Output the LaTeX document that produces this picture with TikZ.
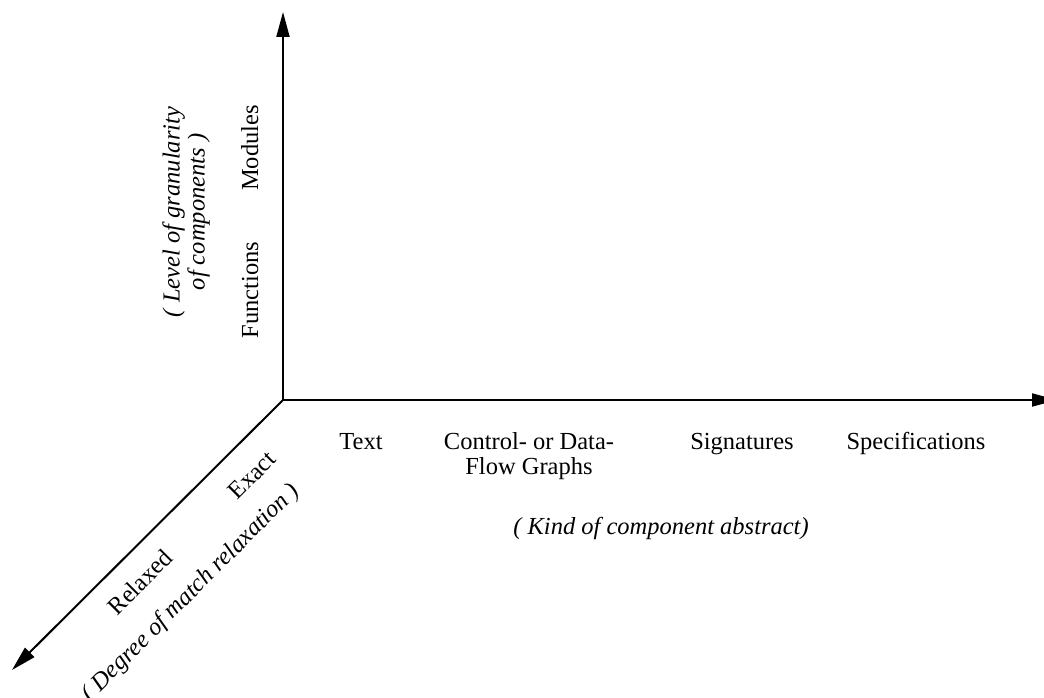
\documentclass[tikz,border=0pt]{standalone}
\usepackage{fontspec}
\setmainfont{Liberation Serif}
\usepackage{tikz}
\usetikzlibrary{positioning, arrows.meta}

\begin{document}
\begin{tikzpicture}[x=1pt, y=1pt,
        axis/.style={line width=2pt, -{Triangle[length=25pt, width=13pt]}},
        lbl/.style={font=\fontsize{24.5}{25}\selectfont, inner sep=0pt},
        note/.style={lbl, font=\fontsize{24.5}{25}\selectfont\itshape, align=center}]
            \useasboundingbox (0, 0) rectangle (1044, 698);
            \coordinate (o) at (283, 298);
            \coordinate (up) at (283, 686);
            \coordinate (right) at (1057, 298);
            \coordinate (down) at (12, 28);

            \draw[axis] (o) -- (up);
            \draw[axis] (o) -- (right);
            \draw[axis] (o) -- (down);

            % granularity axis
            \node[lbl, rotate=90, anchor=base] (mod) at (258, 550) {Modules};
            \node[lbl, rotate=90, anchor=base] (fun) at (258, 408) {Functions};
            \node[note, rotate=90] (gran) at (186, 486) {( Level of granularity\\of components )};

            % abstraction axis
            \node[lbl, anchor=base] (txt) at (361, 248) {Text};
            \node[lbl, align=center, anchor=base] (flow) at (529, 223) {Control- or Data-\\Flow Graphs};
            \node[lbl, anchor=base] (sig) at (742, 248) {Signatures};
            \node[lbl, anchor=base] (spec) at (916, 248) {Specifications};
            \node[note, anchor=base] (kind) at (661, 163) {( Kind of component abstract)};

            % relaxation axis
            \node[lbl, rotate=45] (exact) at (252, 223) {Exact};
            \node[lbl, rotate=45] (relax) at (140, 116) {Relaxed};
            \node[note, rotate=45] (deg) at (191, 105) {( Degree of match relaxation )};
        \end{tikzpicture}
\end{document}
